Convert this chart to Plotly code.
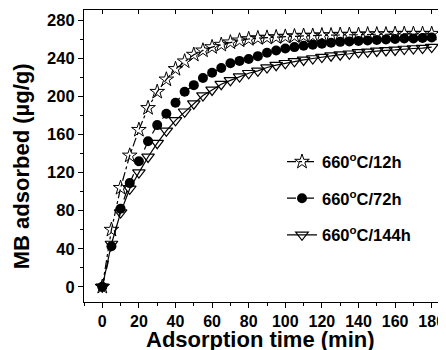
import plotly.graph_objects as go

time_min = [0, 5, 10, 15, 20, 25, 30, 35, 40, 45, 50, 55, 60, 65, 70, 75, 80, 85, 90,
            95, 100, 105, 110, 115, 120, 125, 130, 135, 140, 145, 150, 155, 160, 165, 170, 175, 180]
mb_12h = [0, 60, 104, 138, 165, 188, 205, 218, 229, 237, 244, 248.5, 252, 254.5, 257, 259, 260.5, 261.5, 262,
          262.5, 263, 263.5, 264, 264, 264.5, 264.5, 265, 265, 265, 265.5, 265.5, 265.5, 266, 266, 266, 266, 266]
mb_72h = [0, 42.7, 82, 109, 132, 153, 170, 182, 193.5, 205, 212, 219.5, 225, 230, 235, 237.5, 239.5, 242.5, 246,
          248.5, 250.5, 252, 253.5, 254.5, 255.5, 256.5, 257.5, 258, 258.5, 259, 259.5, 260, 260.5, 261, 261, 261.5, 262]
mb_144h = [0, 45, 78, 103, 120, 136.5, 151, 164, 175, 184, 192.5, 201, 207, 213, 217, 221, 224.5, 227, 230.5,
           233, 235, 237, 238.5, 240, 241.5, 243, 244, 245, 246.5, 247, 248, 248.5, 249, 250, 250.5, 251, 252]

series_names = ["660<sup>o</sup>C/12h", "660<sup>o</sup>C/72h", "660<sup>o</sup>C/144h"]
x_ticks = [0, 20, 40, 60, 80, 100, 120, 140, 160, 180]
y_ticks = [0, 40, 80, 120, 160, 200, 240, 280]
x_title = "Adsorption time (min)"
y_title = "MB adsorbed (\u00b5g/g)"

FONT = "Liberation Sans, Arial, sans-serif"

fig = go.Figure()
fig.add_trace(go.Scatter(
    x=time_min, y=mb_144h, name=series_names[2], mode="lines+markers",
    line=dict(color="black", width=1.2),
    marker=dict(symbol="triangle-down-open", size=11, color="black", line=dict(width=1.2)),
    legend="legend3"))
fig.add_trace(go.Scatter(
    x=time_min, y=mb_72h, name=series_names[1], mode="lines+markers",
    line=dict(color="black", width=1.2, dash="dash"),
    marker=dict(symbol="circle", size=10, color="black"),
    legend="legend2"))
fig.add_trace(go.Scatter(
    x=time_min, y=mb_12h, name=series_names[0], mode="lines+markers",
    line=dict(color="black", width=1.2, dash="dashdot"),
    marker=dict(symbol="star-open", size=11, color="black", line=dict(width=1)),
    legend="legend"))
# invisible trace to activate the top axis
fig.add_trace(go.Scatter(x=[time_min[0]], y=[mb_12h[0]], xaxis="x2", mode="markers",
                         marker=dict(opacity=0), showlegend=False, hoverinfo="skip"))

legend_common = dict(font=dict(family=FONT, size=16.5, color="black", weight="bold"),
                     bgcolor="rgba(0,0,0,0)", borderwidth=0, itemwidth=30,
                     xanchor="left", yanchor="middle")
fig.update_layout(
    width=446, height=350,
    margin=dict(l=76, r=4, t=2, b=56),
    paper_bgcolor="white", plot_bgcolor="white",
    font=dict(family=FONT, color="black"),
    legend=dict(x=0.541, y=0.4796, **legend_common),
    legend2=dict(x=0.541, y=0.3545, **legend_common),
    legend3=dict(x=0.541, y=0.229, **legend_common),
    xaxis=dict(
        range=[-10, 190], tickvals=x_ticks, ticks="outside", ticklen=5, tickwidth=1,
        tickcolor="black", showline=True, linecolor="black", linewidth=1.2, mirror=False,
        showgrid=False, zeroline=False, automargin=False,
        minor=dict(dtick=10, tick0=0, ticks="outside", ticklen=3, tickcolor="black"),
        tickfont=dict(family=FONT, size=16, color="black", weight="bold")),
    xaxis2=dict(
        overlaying="x", side="top", matches="x", tickvals=x_ticks, ticks="inside", ticklen=4,
        tickcolor="black", showline=True, linecolor="black", linewidth=1.2,
        showticklabels=False, showgrid=False, zeroline=False),
    yaxis=dict(
        range=[-16, 291], tickvals=y_ticks, ticks="outside", ticklen=5, tickwidth=1,
        tickcolor="black", showline=True, linecolor="black", linewidth=1.2,
        showgrid=False, zeroline=False, automargin=False,
        minor=dict(dtick=20, tick0=0, ticks="outside", ticklen=3, tickcolor="black"),
        tickfont=dict(family=FONT, size=16.5, color="black", weight="bold")),
)
fig.add_annotation(text=x_title, xref="paper", yref="paper", x=0.4836, y=-0.13,
                   xanchor="center", yanchor="middle", showarrow=False,
                   font=dict(family=FONT, size=22, color="black", weight="bold"))
fig.add_annotation(text=y_title, xref="paper", yref="paper", x=-0.172, y=0.465,
                   xanchor="center", yanchor="middle", showarrow=False, textangle=-90,
                   font=dict(family=FONT, size=22, color="black", weight="bold"))

fig.write_html("out.html")
